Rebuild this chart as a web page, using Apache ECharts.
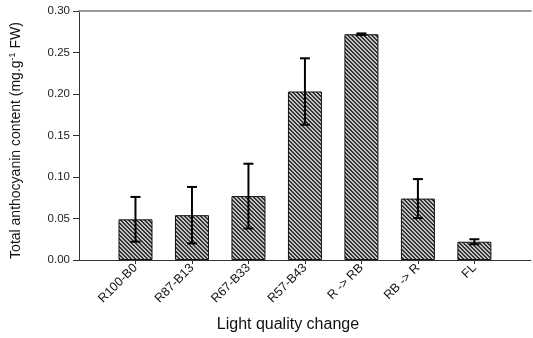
<!DOCTYPE html>
<html><head><meta charset="utf-8">
<script src="https://cdn.jsdelivr.net/npm/echarts@6/dist/echarts.min.js"></script>
<style>html,body{margin:0;padding:0;background:#fff}#c{width:533px;height:338px}</style>
</head><body><div id="c"></div>
<script>
const categories = ['R100-B0','R87-B13','R67-B33','R57-B43','R -> RB','RB -> R','FL'];
const means = [0.049, 0.054, 0.077, 0.203, 0.272, 0.074, 0.022];
const errors = [0.027, 0.034, 0.039, 0.040, 0.001, 0.0235, 0.003];
const yTicks = [0, 0.05, 0.10, 0.15, 0.20, 0.25, 0.30];

// axis slots: blank slot at start and end so bars sit at slots 1..7
const slots = [''].concat(categories, ['']);

const pc = document.createElement('canvas');
pc.width = 4; pc.height = 4;
const g = pc.getContext('2d');
g.fillStyle = '#c4c4c4'; g.fillRect(0,0,4,4);
g.fillStyle = '#333333';
for (let y = 0; y < 4; y++) { g.fillRect(y % 4, y, 1, 1); g.fillRect((y + 1) % 4, y, 1, 1); }

const barData = means.map((v, i) => [i + 1, v]);
const errData = means.map((v, i) => [i + 1, v - errors[i], v + errors[i]]);

const font = 'Liberation Sans, Arial, sans-serif';
const chart = echarts.init(document.getElementById('c'), null, {renderer: 'canvas'});
chart.setOption({
  animation: false,
  grid: {left: 79, right: -2, top: 11, bottom: 76},
  xAxis: [{
    type: 'category', data: slots, boundaryGap: false,
    axisLine: {lineStyle: {color: '#333', width: 1}},
    axisTick: {length: 4, lineStyle: {color: '#333'}, interval: (i) => i > 0 && i < slots.length - 1},
    axisLabel: {rotate: 45, fontSize: 12.5, color: '#111', fontFamily: font, margin: 6, interval: 0},
    name: 'Light quality change', nameLocation: 'middle', nameGap: 57,
    nameTextStyle: {fontSize: 16, color: '#111', fontFamily: font, padding: [0, 34, 0, 0]}
  }, {
    type: 'category', data: slots, boundaryGap: false, position: 'top',
    axisLine: {lineStyle: {color: '#999', width: 2}},
    axisTick: {show: false}, axisLabel: {show: false}
  }],
  yAxis: {
    type: 'value', min: 0, max: 0.30, interval: 0.05,
    axisLine: {show: true, lineStyle: {color: '#333'}},
    axisTick: {show: true, length: 6, lineStyle: {color: '#333'}},
    splitLine: {show: false},
    axisLabel: {fontSize: 11.5, color: '#222', fontFamily: font, margin: 9, formatter: v => v.toFixed(2)},
    name: 'Total anthocyanin content (mg.g{sup|-1} FW)', nameLocation: 'middle', nameGap: 54, nameRotate: 90,
    nameTextStyle: {fontSize: 14, color: '#111', fontFamily: font, padding: [0, 10, 0, 0],
      rich: {sup: {fontSize: 9, verticalAlign: 'top', padding: [0, 0, 8, 0], color: '#111', fontFamily: font}}}
  },
  series: [{
    type: 'bar', data: barData, barWidth: 34,
    itemStyle: {color: {image: pc, repeat: 'repeat'}, borderColor: '#111', borderWidth: 1}
  }, {
    type: 'custom', data: errData, z: 10,
    renderItem: function (params, api) {
      const x = api.value(0);
      const lo = api.coord([x, api.value(1)]);
      const hi = api.coord([x, api.value(2)]);
      const w = 5;
      const st = {stroke: '#000', lineWidth: 2};
      return {type: 'group', children: [
        {type: 'line', shape: {x1: lo[0], y1: lo[1], x2: hi[0], y2: hi[1]}, style: st},
        {type: 'line', shape: {x1: hi[0] - w, y1: hi[1], x2: hi[0] + w, y2: hi[1]}, style: st},
        {type: 'line', shape: {x1: lo[0] - w, y1: lo[1], x2: lo[0] + w, y2: lo[1]}, style: st}
      ]};
    }
  }]
});
</script></body></html>
